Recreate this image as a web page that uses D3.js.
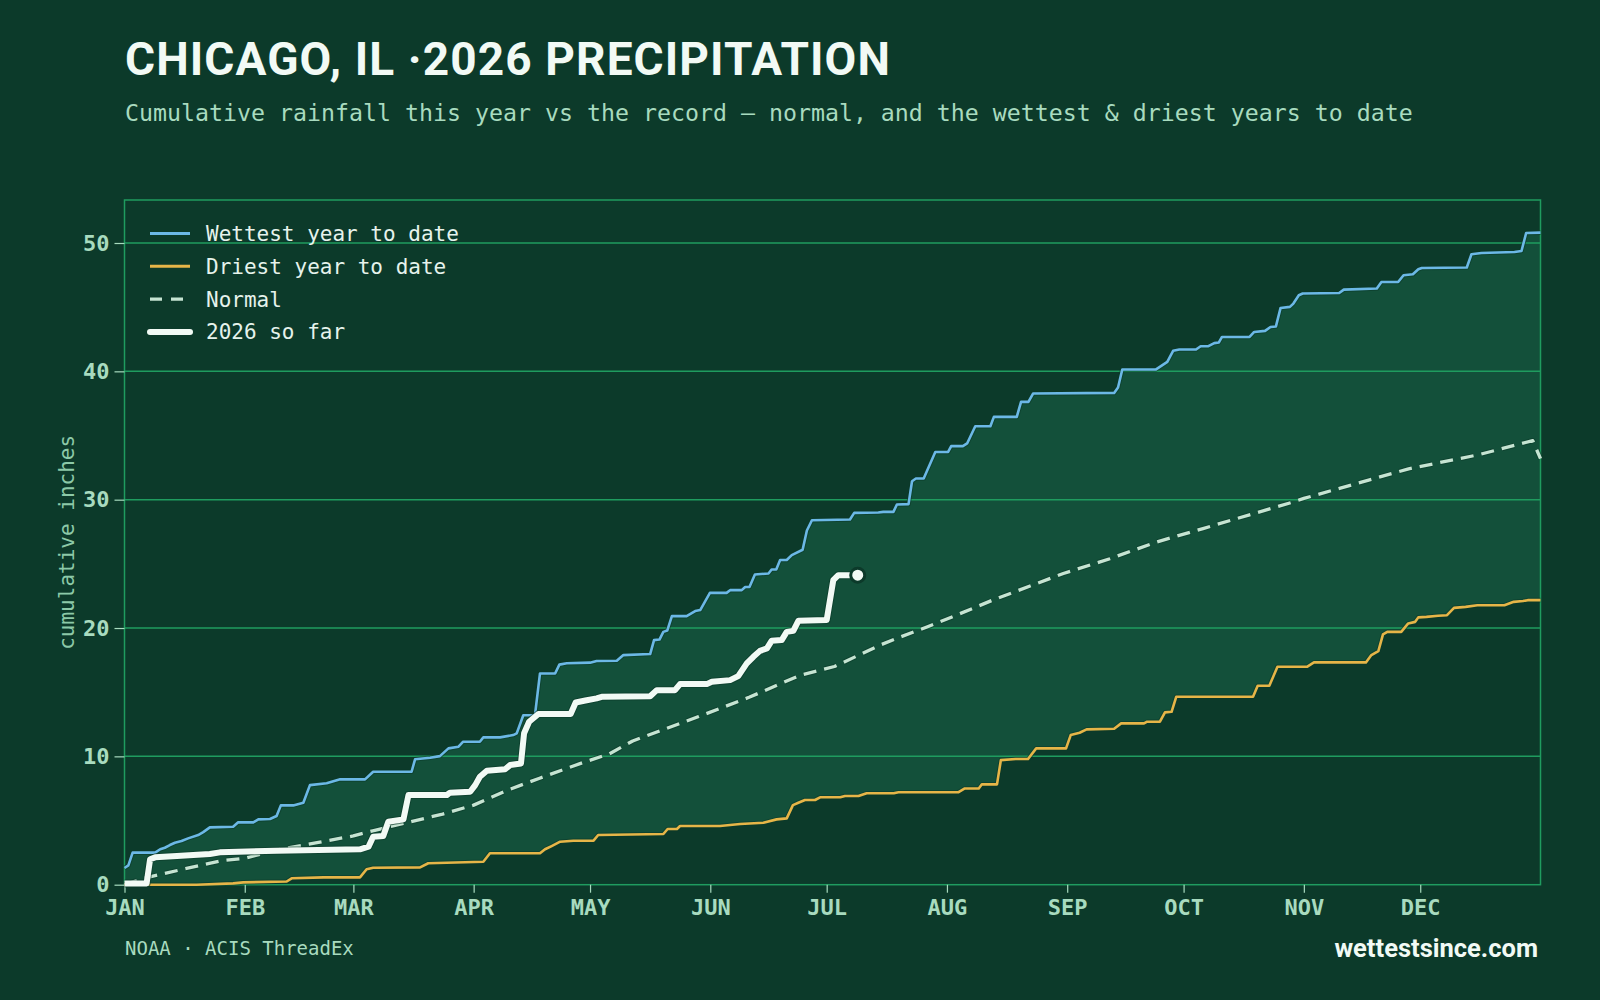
<!DOCTYPE html>
<html>
<head>
<meta charset="utf-8">
<script src="https://cdn.jsdelivr.net/npm/d3@7"></script>
<style>
  html, body { margin: 0; padding: 0; background: #0c3a2a; }
  svg { display: block; }
</style>
</head>
<body>
<script>
// [day of year, cumulative inches]
const wettest = [
  [0, 1.3], [1, 1.5], [2.1, 2.5], [7.9, 2.5], [9.2, 2.76], [10.4, 2.88], [11.7, 3.09], [13, 3.27],
  [14.7, 3.4], [16.4, 3.61], [19, 3.87], [20.3, 4.1], [22, 4.47], [28, 4.52], [29.3, 4.86], [33.2, 4.86],
  [34.5, 5.09], [37.5, 5.12], [39.2, 5.35], [40.3, 6.18], [43.5, 6.18], [46.1, 6.39], [47.8, 7.76],
  [52.1, 7.9], [53.4, 8.02], [55.6, 8.21], [62, 8.21], [64.1, 8.8], [74, 8.8], [74.9, 9.77], [78.8, 9.89],
  [81.3, 10.02], [83.5, 10.62], [86.1, 10.75], [87.3, 11.14], [91.6, 11.14], [92.5, 11.48], [96.8, 11.48],
  [100.2, 11.66], [101.1, 11.79], [102.8, 13.2], [105.8, 13.2], [107.1, 16.46], [111, 16.46],
  [112.1, 17.15], [114, 17.25], [120, 17.3], [121.7, 17.43], [126.9, 17.45], [128.6, 17.89], [135.5, 17.97],
  [136.5, 19.06], [137.9, 19.1], [138.9, 19.7], [139.9, 19.8], [141.1, 20.93], [144.9, 20.93],
  [147.1, 21.32], [148.4, 21.4], [150.9, 22.74], [155.2, 22.74], [156.1, 22.95], [159.1, 22.95],
  [160, 23.2], [161.1, 23.2], [162.5, 24.17], [166, 24.25], [166.8, 24.56], [168, 24.56], [169, 25.3],
  [170.7, 25.3], [172, 25.68], [174.8, 26.1], [175.9, 27.6], [177.2, 28.4], [187, 28.46], [188.1, 28.97],
  [194.3, 29], [195.6, 29.05], [198.2, 29.05], [199.1, 29.63], [202.1, 29.65], [203, 31.44], [204, 31.65],
  [206, 31.65], [209, 33.72], [212.3, 33.72], [213.1, 34.17], [216.1, 34.17], [217.2, 34.38],
  [219.3, 35.72], [223.2, 35.72], [224.1, 36.45], [230, 36.45], [231.1, 37.62], [233, 37.62],
  [234.2, 38.27], [255.1, 38.32], [256.1, 38.74], [257.2, 40.14], [265.8, 40.14], [268.8, 40.74],
  [270.3, 41.6], [271.9, 41.7], [276.2, 41.7], [277.4, 41.96], [279.4, 41.96], [280.9, 42.2],
  [282.1, 42.25], [282.9, 42.68], [290, 42.68], [291.2, 43.07], [294, 43.15], [295.4, 43.46],
  [296.8, 43.5], [298, 44.94], [300.4, 45.02], [301.3, 45.28], [302.7, 45.93], [303.7, 46.06],
  [313.1, 46.1], [314.3, 46.37], [322.8, 46.45], [324, 46.96], [328.3, 46.96], [329.7, 47.49],
  [332.1, 47.56], [333.5, 47.95], [334.4, 48.05], [346, 48.09], [347.2, 49.12], [349.8, 49.22],
  [358.3, 49.3], [360.1, 49.38], [361.3, 50.78], [365, 50.81]
];

const driest = [
  [0, 0], [18.6, 0], [28, 0.1], [30.6, 0.18], [41.8, 0.25], [43.1, 0.5], [51.3, 0.57], [60.7, 0.57],
  [62.4, 1.2], [64.1, 1.32], [76.2, 1.35], [78.3, 1.67], [92.5, 1.79], [94.2, 2.45], [107.1, 2.45],
  [108.4, 2.76], [110.1, 3.01], [112.3, 3.35], [115.7, 3.43], [120.9, 3.43], [122.1, 3.87],
  [138.9, 3.95], [140, 4.34], [142.4, 4.34], [143.2, 4.57], [153.5, 4.57], [158.7, 4.73],
  [164.7, 4.83], [168.1, 5.09], [170.7, 5.17], [172.3, 6.2], [173.7, 6.39], [175.4, 6.6], [178, 6.6],
  [179.3, 6.81], [184.5, 6.81], [185.7, 6.91], [189.2, 6.91], [191.3, 7.12], [198.3, 7.12],
  [199.5, 7.2], [214.9, 7.2], [216.6, 7.5], [220.2, 7.5], [221, 7.82], [224.9, 7.82], [225.9, 9.71],
  [229.7, 9.79], [232.9, 9.79], [235, 10.62], [242.7, 10.62], [243.9, 11.66], [246.2, 11.84],
  [248, 12.1], [255.1, 12.15], [256.9, 12.57], [262.8, 12.57], [263.6, 12.7], [266.9, 12.7],
  [268.2, 13.43], [269.9, 13.47], [271.1, 14.64], [290.9, 14.64], [292.1, 15.5], [295.1, 15.5],
  [297.2, 16.98], [304.8, 16.98], [306.6, 17.32], [320, 17.32], [321.4, 17.89], [323.2, 18.2],
  [324.4, 19.5], [325.5, 19.7], [329.1, 19.7], [330.9, 20.36], [332.7, 20.48], [333.5, 20.83],
  [335.6, 20.87], [338.6, 20.95], [340.9, 21], [342.7, 21.57], [345.7, 21.65], [348.7, 21.78],
  [355.7, 21.78], [358.1, 22.04], [360.5, 22.1], [361.7, 22.17], [365, 22.17]
];

const normal = [
  [0, 0], [5, 0.5], [15, 1.2], [25, 1.87], [31, 2.05], [39, 2.7], [50, 3.3], [59, 3.8], [64, 4.2],
  [82, 5.5], [90, 6.2], [99, 7.4], [107, 8.3], [118, 9.5], [125, 10.2], [131, 11.2], [148, 13.1],
  [161, 14.6], [174, 16.3], [183, 17], [195, 18.7], [200, 19.3], [207, 20.1], [212, 20.7], [224, 22.2],
  [242, 24.25], [254, 25.4], [266, 26.7], [278, 27.75], [301, 29.8], [304, 30.1], [331, 32.4],
  [349, 33.5], [363, 34.6], [365, 33.2]
];

const thisYear = [
  [0, 0.1], [5.7, 0.1], [6.6, 1.98], [7.9, 2.13], [13.5, 2.24], [22, 2.39], [24.6, 2.52], [39.2, 2.65],
  [60.7, 2.76], [62.9, 2.96], [64.1, 3.74], [66.7, 3.79], [68, 4.91], [71.9, 5.09], [73.2, 6.99],
  [83.1, 6.99], [83.9, 7.17], [89.1, 7.24], [90.4, 7.76], [91.6, 8.41], [93.4, 8.88], [98.1, 8.99],
  [99.4, 9.32], [102.2, 9.45], [103, 11.8], [104.3, 12.7], [106.7, 13.3], [115, 13.3], [116.3, 14.2],
  [118.8, 14.35], [121.7, 14.52], [123, 14.64], [135.5, 14.69], [137.2, 15.16], [141.9, 15.16],
  [143.2, 15.63], [150.1, 15.63], [151.4, 15.81], [156.1, 15.94], [158.2, 16.25], [160.4, 17.24],
  [162.1, 17.76], [163.8, 18.22], [165.6, 18.41], [166.8, 19], [169.4, 19.06], [170.7, 19.7],
  [172.4, 19.78], [173.7, 20.56], [181, 20.62], [182.7, 23.73], [184, 24.12], [189, 24.12]
];

const yTicks = [0, 10, 20, 30, 40, 50];
const legendItems = ['Wettest year to date', 'Driest year to date', 'Normal', '2026 so far'];

const W = 1600, H = 1000;
const M = { left: 124.5, right: 1540.5, top: 200, bottom: 884.7 };
const C = {
  bg: '#0c3a2a', band: '#13503a', grid: '#1f9c5f', text: '#a8dbbf', white: '#f2faf5',
  wet: '#6cb8e6', dry: '#e6b548', normal: '#c6e4d2'
};
const mono = '"DejaVu Sans Mono", monospace';

const start = new Date(2026, 0, 1);
const toDate = d => new Date(start.getTime() + d * 86400000);

const svg = d3.select('body').append('svg').attr('width', W).attr('height', H);
svg.append('rect').attr('width', W).attr('height', H).attr('fill', C.bg);

const x = d3.scaleTime().domain([start, new Date(2027, 0, 1)]).range([M.left, M.right]);
const y = d3.scaleLinear().domain([0, d3.max(wettest, d => d[1]) * 1.05]).range([M.bottom, M.top]);

const line = d3.line().x(d => x(toDate(d[0]))).y(d => y(d[1]));

// band between driest and wettest
svg.append('path')
   .attr('d', line(wettest.concat(driest.slice().reverse())) + 'Z')
   .attr('fill', C.band);

// gridlines
svg.append('g').selectAll('line')
   .data(yTicks.filter(t => t > 0))
   .enter().append('line')
   .attr('x1', M.left).attr('x2', M.right)
   .attr('y1', d => y(d)).attr('y2', d => y(d))
   .attr('stroke', C.grid).attr('stroke-width', 1.5);

// border
svg.append('rect')
   .attr('x', M.left).attr('y', M.top)
   .attr('width', M.right - M.left).attr('height', M.bottom - M.top)
   .attr('fill', 'none').attr('stroke', C.grid).attr('stroke-width', 1.5);

// axes
const yAxis = d3.axisLeft(y).tickValues(yTicks).tickSize(10).tickPadding(5);
const gy = svg.append('g').attr('transform', `translate(${M.left},0)`).call(yAxis);
gy.select('.domain').remove();
gy.selectAll('line').attr('stroke', C.text).attr('stroke-width', 1.2);
gy.selectAll('text').attr('fill', C.text).style('font-family', mono)
  .style('font-size', '22px').style('font-weight', 'bold');

const xAxis = d3.axisBottom(x).ticks(d3.timeMonth.every(1))
  .tickFormat(d => d3.timeFormat('%b')(d).toUpperCase()).tickSize(8).tickPadding(7);
const gx = svg.append('g').attr('transform', `translate(0,${M.bottom})`).call(xAxis);
gx.select('.domain').remove();
gx.selectAll('.tick').filter(d => d >= new Date(2027, 0, 1)).remove();
gx.selectAll('line').attr('stroke', C.text).attr('stroke-width', 1.2);
gx.selectAll('text').attr('fill', C.text).style('font-family', mono)
  .style('font-size', '22px').style('font-weight', 'bold');

// series
function drawLine(data, color, width, dash) {
  svg.append('path').datum(data).attr('d', line)
     .attr('fill', 'none').attr('stroke', C.bg).attr('stroke-opacity', 0.6)
     .attr('stroke-width', width + 2).attr('stroke-linejoin', 'round')
     .attr('stroke-dasharray', dash || null);
  svg.append('path').datum(data).attr('d', line)
     .attr('fill', 'none').attr('stroke', color)
     .attr('stroke-width', width).attr('stroke-linejoin', 'round')
     .attr('stroke-dasharray', dash || null);
}
drawLine(normal, C.normal, 3.3, '13,8');
drawLine(driest, C.dry, 2.6);
drawLine(wettest, C.wet, 2.6);
drawLine(thisYear, C.white, 6);

const last = thisYear[thisYear.length - 1];
svg.append('circle')
   .attr('cx', x(toDate(last[0]))).attr('cy', y(last[1])).attr('r', 7)
   .attr('fill', C.white).attr('stroke', C.bg).attr('stroke-width', 3);

// legend
const legendStyle = [
  { color: C.wet, w: 3, dash: null },
  { color: C.dry, w: 3, dash: null },
  { color: C.normal, w: 3.3, dash: '12,9' },
  { color: C.white, w: 6, dash: null }
];
const lg = svg.append('g');
legendItems.forEach((t, i) => {
  const ly = 233.5 + i * 32.8;
  lg.append('line').attr('x1', 150).attr('x2', 190).attr('y1', ly).attr('y2', ly)
    .attr('stroke', legendStyle[i].color).attr('stroke-width', legendStyle[i].w)
    .attr('stroke-linecap', i === 3 ? 'round' : 'butt')
    .attr('stroke-dasharray', legendStyle[i].dash);
  lg.append('text').attr('x', 206).attr('y', ly + 7.5).text(t)
    .attr('fill', '#e6f3ec').style('font-family', mono).style('font-size', '21px');
});

// titles
svg.append('text').attr('x', 125).attr('y', 75)
   .text('CHICAGO, IL ·2026 PRECIPITATION')
   .attr('fill', C.white).style('font-family', 'Roboto, sans-serif')
   .style('font-size', '46px').style('font-weight', 'bold').style('letter-spacing', '1.1px');

svg.append('text').attr('x', 125).attr('y', 121)
   .text('Cumulative rainfall this year vs the record \u2014 normal, and the wettest & driest years to date')
   .attr('fill', C.text).style('font-family', mono).style('font-size', '23.25px');

svg.append('text')
   .attr('transform', `translate(74,${(M.top + M.bottom) / 2}) rotate(-90)`)
   .attr('text-anchor', 'middle')
   .text('cumulative inches')
   .attr('fill', '#8cc9a8').style('font-family', mono).style('font-size', '21px');

svg.append('text').attr('x', 125).attr('y', 955)
   .text('NOAA \u00b7 ACIS ThreadEx')
   .attr('fill', C.text).style('font-family', mono).style('font-size', '19px');

svg.append('text').attr('x', 1538).attr('y', 957).attr('text-anchor', 'end')
   .text('wettestsince.com')
   .attr('fill', C.white).style('font-family', 'Roboto, sans-serif')
   .style('font-size', '25.5px').style('font-weight', 'bold');
</script>
</body>
</html>
